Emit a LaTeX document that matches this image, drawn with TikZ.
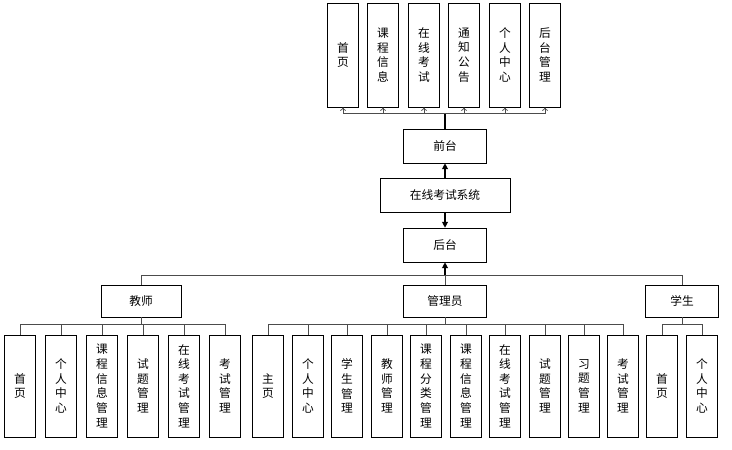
\documentclass[tikz,border=0pt]{standalone}
\usepackage{fontspec}
\setmainfont{Noto Sans CJK SC}
\usetikzlibrary{arrows.meta}

\begin{document}
\begin{tikzpicture}[x=0.03cm,y=-0.03cm,
  box/.style={draw, line width=0.5pt, inner sep=0pt, font=\fontsize{10}{12.5}\selectfont, align=center},
  leaf/.style={box, minimum width=31*0.03cm, minimum height=102*0.03cm},
  mid/.style={box, minimum width=83*0.03cm, minimum height=34*0.03cm},
  link/.style={draw=black!70, line width=0.6pt}]
\useasboundingbox (0,0) rectangle (732,449);
\def\lt{5} % leaf top

% top menu
\foreach \x/\t [count=\i] in {343/首\\页, 383/课\\程\\信\\息, 424/在\\线\\考\\试, 464/通\\知\\公\\告, 505/个\\人\\中\\心, 545/后\\台\\管\\理}
  \node[leaf, minimum height=104*0.03cm] (f\i) at (\x,55) {\t};

\node[mid] (front) at (445,146) {前台};
\node[mid, minimum width=130*0.03cm] (sys) at (445,195) {在线考试系统};
\node[mid] (back) at (445,245) {后台};

\coordinate (fbus) at (445,113);
\draw[line width=1pt] (front.north) -- (fbus);
\foreach \i in {1,...,6}
  \draw[link, -{To[length=3pt,width=5pt]}] (fbus) -| (f\i.south);
\draw[line width=1pt, -{Triangle[length=5pt,width=5pt]}] (sys) -- (front);
\draw[line width=1pt, -{Triangle[length=5pt,width=5pt]}] (sys) -- (back);

% roles
\node[mid, minimum width=80*0.03cm, minimum height=32*0.03cm] (teacher) at (141,301) {教师};
\node[mid, minimum height=32*0.03cm] (admin) at (445,301) {管理员};
\node[mid, minimum width=73*0.03cm, minimum height=32*0.03cm] (student) at (682,301) {学生};
\coordinate (rbus) at (445,275);
\draw[line width=1pt, -{Triangle[length=5pt,width=5pt]}] (rbus) -- (back);
\foreach \r in {teacher, admin, student}
  \draw[link] (rbus) -| (\r.north);

% leaves
\foreach \x/\t [count=\i] in {20/首\\页, 61/个\\人\\中\\心, 102/课\\程\\信\\息\\管\\理, 143/试\\题\\管\\理, 184/在\\线\\考\\试\\管\\理, 225/考\\试\\管\\理}
{
  \node[leaf] (t\i) at (\x,386) {\t};
  \draw[link] (teacher.south) -- ++(0,7) -| (t\i.north);
}
\foreach \x/\t [count=\i] in {268/主\\页, 308/个\\人\\中\\心, 347/学\\生\\管\\理, 387/教\\师\\管\\理, 426/课\\程\\分\\类\\管\\理, 466/课\\程\\信\\息\\管\\理, 505/在\\线\\考\\试\\管\\理, 545/试\\题\\管\\理, 584/习\\题\\管\\理, 623/考\\试\\管\\理}
{
  \node[leaf] (a\i) at (\x,386) {\t};
  \draw[link] (admin.south) -- ++(0,7) -| (a\i.north);
}
\foreach \x/\t [count=\i] in {662/首\\页, 702/个\\人\\中\\心}
{
  \node[leaf] (s\i) at (\x,386) {\t};
  \draw[link] (student.south) -- ++(0,7) -| (s\i.north);
}
\end{tikzpicture}
\end{document}
